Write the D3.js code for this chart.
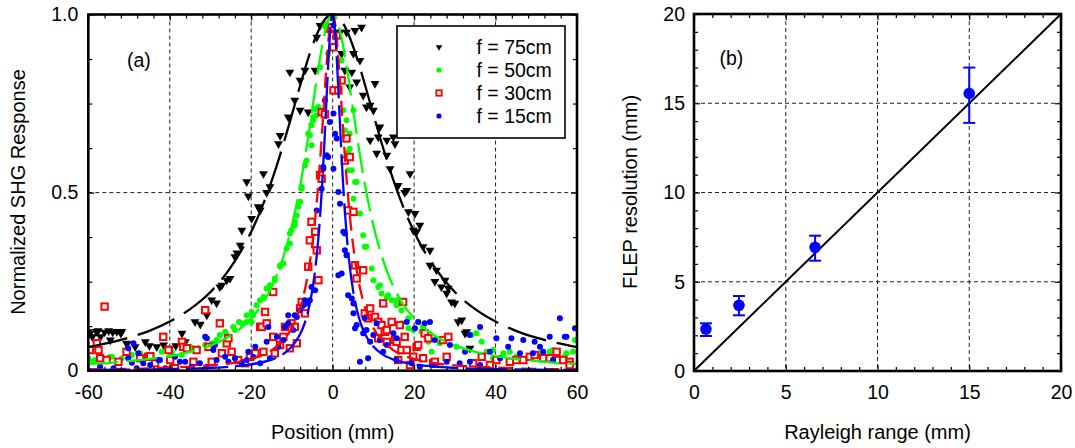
<!DOCTYPE html>
<html><head><meta charset="utf-8">
<script src="https://cdn.jsdelivr.net/npm/d3@7"></script>
<style>
body{margin:0;background:#fff;}
text{font-family:"Liberation Sans",Arial,sans-serif;fill:#000;}
</style></head><body>
<svg id="c" width="1075" height="448"></svg>
<script>
// ---------- Panel (a) data ----------
const seriesNames = ["f = 75cm","f = 50cm","f = 30cm","f = 15cm"];
const seriesColors = ["#000000","#00ff00","#ff0000","#0000ff"];
const f75 = [[-60,0.109],[-59.6,0.105],[-59,0.095],[-58,0.11],[-57.6,0.112],[-57,0.095],[-56,0.108],[-55,0.112],[-54.6,0.086],[-54,0.108],[-53,0.11],[-52,0.105],[-51.8,0.11],[-50.6,0.077],[-50.5,0.075],[-48.5,0.067],[-46,0.081],[-45,0.07],[-43.2,0.067],[-41.5,0.072],[-39.9,0.063],[-38.5,0.07],[-37,0.105],[-36.2,0.081],[-33.8,0.137],[-32.5,0.13],[-30.9,0.156],[-29.7,0.198],[-28.5,0.19],[-27.7,0.235],[-27.2,0.24],[-26,0.254],[-25.2,0.259],[-24,0.32],[-23.5,0.33],[-22.7,0.352],[-22.3,0.394],[-21.1,0.53],[-20.7,0.49],[-19.9,0.427],[-18.3,0.46],[-17.8,0.45],[-17,0.553],[-16.2,0.5],[-15.4,0.516],[-13.3,0.637],[-12.9,0.66],[-10.9,0.712],[-10.5,0.838],[-9.3,0.759],[-8,0.731],[-8,0.815],[-6.8,0.843],[-6,0.726],[-4.3,0.843],[-3.9,0.936],[-3.1,0.969],[-1.5,0.964],[1,0.95],[1.8,0.95],[2.2,0.89],[3,0.843],[3.4,0.95],[4.2,0.796],[4.7,0.838],[5.1,0.89],[5.5,0.955],[5.9,0.81],[6.7,0.871],[7.1,0.964],[7.5,0.773],[8.3,0.74],[9.2,0.745],[9.2,0.647],[10,0.731],[10.4,0.806],[10.8,0.61],[11.2,0.656],[11.6,0.684],[13.3,0.647],[13.3,0.605],[14.1,0.567],[14.9,0.656],[15.3,0.637],[16.1,0.52],[17.7,0.5],[18.2,0.506],[18.6,0.446],[19,0.553],[19.8,0.394],[20.2,0.441],[20.6,0.39],[21.4,0.408],[22.2,0.348],[23.9,0.338],[23.9,0.296],[25.1,0.25],[25.5,0.282],[26.7,0.235],[27.6,0.254],[28,0.217],[28.4,0.231],[29.2,0.193],[30,0.189],[30.8,0.137],[31.7,0.142],[32.5,0.105],[32.9,0.109],[33.7,0.063]];
const f50 = [[-60,0.035],[-59.1,0.025],[-58.3,0.03],[-56.7,0.035],[-54.7,0.039],[-54.2,0.039],[-51.8,0.035],[-49.3,0.044],[-47.3,0.049],[-46.9,0.035],[-44.4,0.044],[-42,0.053],[-39.9,0.049],[-39.5,0.053],[-37.1,0.044],[-35,0.067],[-34.2,0.063],[-33,0.063],[-31.3,0.072],[-29.7,0.077],[-28.5,0.086],[-27.7,0.1],[-26.4,0.109],[-26,0.1],[-24.4,0.123],[-24,0.114],[-23,0.137],[-22.3,0.133],[-21.1,0.156],[-21.1,0.137],[-19.9,0.165],[-19.9,0.137],[-19.5,0.156],[-18.7,0.184],[-17.8,0.198],[-17,0.207],[-16.2,0.231],[-15.8,0.231],[-15.4,0.24],[-14.2,0.254],[-14.2,0.259],[-12.9,0.292],[-12.9,0.296],[-12.1,0.301],[-11.3,0.343],[-10.5,0.357],[-10.5,0.385],[-10.1,0.394],[-9.3,0.408],[-9.3,0.418],[-8.8,0.436],[-8.4,0.46],[-8,0.474],[-7.6,0.511],[-7.6,0.516],[-6.8,0.577],[-6.4,0.59],[-6,0.665],[-5.6,0.661],[-5.2,0.633],[-5.2,0.689],[-4.8,0.703],[-4.8,0.712],[-4.3,0.735],[-3.9,0.717],[-3.5,0.74],[-3.1,0.852],[-2.3,0.969],[-1.9,0.974],[-1.1,0.89],[-0.25,0.99],[2.2,0.871],[2.6,0.731],[3,0.675],[3.4,0.703],[3.8,0.614],[3.8,0.563],[4.2,0.665],[4.2,0.623],[4.7,0.563],[5.1,0.731],[5.1,0.483],[5.5,0.53],[5.9,0.53],[6.7,0.441],[7.5,0.38],[7.9,0.348],[8.3,0.348],[9.6,0.287],[10,0.254],[11.2,0.235],[11.6,0.24],[12,0.217],[13.3,0.207],[13.6,0.212],[14.5,0.198],[15.7,0.184],[15.7,0.198],[16.9,0.17],[16.9,0.133],[18.6,0.147],[18.6,0.119],[19.8,0.114],[21,0.137],[21.8,0.109],[22.2,0.123],[23.5,0.081],[23.9,0.086],[24.3,0.053],[26.3,0.077],[30.4,0.067],[33.7,0.1],[34.1,0.1],[35.3,0.105],[36.6,0.081],[37.8,0.053],[39.4,0.035],[39.4,0.058],[41.9,0.049],[43.5,0.053],[45.1,0.039],[49.2,0.044],[50.9,0.049],[51.7,0.049],[53.3,0.053],[54.1,0.058],[57,0.039],[57.4,0.049],[59,0.053],[59.5,0.086]];
const f30 = [[-59.6,0.058],[-57.9,0.077],[-57.5,0.058],[-57.1,0.035],[-56,0.18],[-55.5,0.03],[-52.6,0.025],[-50.6,0.053],[-47.3,0.035],[-45.3,0.039],[-44.8,0.041],[-43.6,0.021],[-41.6,0.095],[-40.3,0.058],[-39.9,0.03],[-38.7,0.007],[-37,0.081],[-36.7,0.067],[-35.8,0.063],[-34.2,0.025],[-33.4,0.058],[-31.3,0.17],[-30.5,0.067],[-29.7,0.025],[-27.7,0.133],[-27.2,0.049],[-26,0.077],[-25.6,0.091],[-24.8,0.053],[-23.2,0.03],[-21.5,0.021],[-20.3,0.039],[-19,0.049],[-17.8,0.123],[-17.4,0.123],[-17,0.053],[-16.6,0.165],[-16.2,0.133],[-14.6,0.221],[-14.6,0.095],[-14.2,0.049],[-12.9,0.072],[-12.1,0.095],[-11.7,0.123],[-10.5,0.063],[-10.1,0.133],[-9.3,0.123],[-8.8,0.077],[-8,0.175],[-7.6,0.193],[-6.8,0.161],[-6,0.292],[-5.6,0.366],[-5.2,0.418],[-4.3,0.39],[-3.9,0.338],[-3.5,0.254],[-3.1,0.549],[-2.7,0.539],[-2.7,0.726],[-1.9,0.72],[-0.7,0.96],[-0.3,0.964],[0.2,0.908],[0.2,0.787],[1,0.941],[1.4,0.787],[2.2,0.815],[3,0.59],[3.4,0.652],[3.8,0.45],[4.2,0.6],[5.1,0.446],[5.5,0.296],[5.9,0.259],[7.5,0.282],[7.9,0.161],[8.7,0.147],[9.2,0.175],[10.4,0.151],[11.2,0.137],[11.2,0.091],[12,0.128],[12.4,0.189],[12.8,0.109],[13.3,0.114],[13.3,0.081],[14.5,0.137],[15.3,0.086],[15.7,0.081],[16.1,0.03],[16.5,0.128],[16.9,0.058],[17.3,0.193],[17.7,0.095],[18.2,0.058],[19,0.016],[19.8,0.039],[20.6,0.067],[21,0.072],[22.2,0.035],[22.6,0.105],[23.5,0.091],[24.7,0.021],[25.1,0.025],[27.1,0.086],[28,0.039],[28.4,0.095],[34.5,0.021],[36.6,0.039],[38.6,0.016],[40.2,0.03],[43.5,0.025],[45.1,0.03],[46.8,0.03],[48.4,0.039],[49.6,0.044],[51.7,0.035],[53.3,0.035],[55,0.053],[55.4,0.03],[56.6,0.03],[58.2,0.025],[58.2,0.016]];
const f15 = [[-57.1,0.011],[-53.8,0.007],[-50.2,0.063],[-50.2,0.035],[-49.3,0.022],[-48.9,0.077],[-48.1,0.007],[-47.7,0.049],[-46.5,0.021],[-44.8,0.016],[-42.8,0.03],[-42.4,0.03],[-41.1,0.007],[-38.7,0.039],[-37.5,0.025],[-36.2,0.025],[-34.6,0.011],[-32.6,0.021],[-31.3,0.095],[-30.9,0.091],[-30.9,0.011],[-29.3,0.058],[-28.9,0.072],[-28.5,0.03],[-26.4,0.039],[-25.6,0.025],[-24,0.035],[-22.3,0.021],[-21.1,0.03],[-20.7,0.053],[-19.5,0.039],[-19,0.067],[-17.8,0.021],[-16.2,0.081],[-15.8,0.123],[-15.4,0.035],[-13.7,0.095],[-13.3,0.067],[-12.1,0.086],[-11.7,0.123],[-10.9,0.156],[-10.9,0.133],[-9.7,0.114],[-9.3,0.156],[-8.8,0.151],[-8,0.17],[-7.2,0.184],[-6.8,0.198],[-6.4,0.189],[-5.6,0.198],[-5.2,0.235],[-4.3,0.226],[-3.9,0.45],[-2.7,0.511],[-2.3,0.572],[-2.3,0.567],[-1.9,0.759],[-1.5,0.605],[-1.1,0.6],[-0.7,0.698],[0.2,0.969],[0.2,0.722],[0.2,0.567],[0.6,0.665],[1,0.652],[1.4,0.502],[1.4,0.268],[1.8,0.469],[2.2,0.273],[2.6,0.39],[3,0.385],[3,0.338],[3.4,0.324],[3.8,0.212],[4.7,0.203],[5.1,0.189],[5.1,0.161],[5.5,0.119],[5.9,0.128],[6.7,0.025],[7.5,0.105],[7.9,0.147],[8.3,0.114],[8.7,0.035],[9.2,0.081],[10,0.1],[10.8,0.133],[11.6,0.086],[12.4,0.053],[13.3,0.072],[14.9,0.105],[15.7,0.091],[15.7,0.03],[18.2,0.137],[19.4,0.021],[20.2,0.119],[21,0.137],[21.4,0.011],[22.6,0.133],[23.9,0.137],[24.7,0.016],[25.1,0.086],[28,0.025],[28.8,0.072],[31.2,0.021],[32.5,0.053],[33.7,0.1],[33.7,0.025],[36.2,0.123],[36.2,0.016],[38.6,0.053],[40.2,0.091],[41.1,0.035],[43.1,0.067],[43.9,0.091],[46,0.049],[46.8,0.086],[49.2,0.049],[49.6,0.081],[50.9,0.067],[51.7,0.053],[53.3,0.095],[54.1,0.03],[55.8,0.147],[57,0.095],[57.4,0.095],[59.5,0.119]];
// fitted curves
const fit75 = [[-60,0.066],[-55,0.078],[-50,0.093],[-45,0.112],[-40,0.138],[-35,0.173],[-30,0.221],[-25,0.291],[-21,0.367],[-18,0.441],[-15,0.532],[-12,0.64],[-10,0.719],[-8,0.8],[-6,0.877],[-4,0.941],[-2,0.985],[0,1],[2,0.985],[4,0.941],[6,0.877],[8,0.8],[10,0.719],[12,0.64],[15,0.532],[18,0.441],[21,0.367],[25,0.291],[30,0.221],[35,0.173],[40,0.138],[45,0.112],[50,0.093],[55,0.078],[60,0.066]];
const fit50 = [[-60,0.019],[-55,0.022],[-50,0.027],[-45,0.033],[-40,0.041],[-35,0.053],[-30,0.071],[-25,0.099],[-20,0.147],[-17,0.192],[-14,0.26],[-12,0.324],[-10,0.408],[-8,0.518],[-7,0.584],[-6,0.657],[-5,0.734],[-4,0.812],[-3,0.884],[-2,0.945],[-1,0.986],[0,1],[1,0.986],[2,0.945],[3,0.884],[4,0.812],[5,0.734],[6,0.657],[7,0.584],[8,0.518],[10,0.408],[12,0.324],[14,0.26],[17,0.192],[20,0.147],[25,0.099],[30,0.071],[35,0.053],[40,0.041],[45,0.033],[50,0.027],[55,0.022],[60,0.019]];
const fit30 = [[-60,0.004],[-50,0.005],[-40,0.009],[-30,0.015],[-25,0.021],[-20,0.033],[-15,0.057],[-12,0.087],[-10,0.12],[-8,0.176],[-7,0.218],[-6,0.276],[-5,0.354],[-4,0.461],[-3.5,0.528],[-3,0.603],[-2.5,0.687],[-2,0.774],[-1.5,0.859],[-1,0.932],[-0.5,0.982],[0,1],[0.5,0.982],[1,0.932],[1.5,0.859],[2,0.774],[2.5,0.687],[3,0.603],[3.5,0.528],[4,0.461],[5,0.354],[6,0.276],[7,0.218],[8,0.176],[10,0.12],[12,0.087],[15,0.057],[20,0.033],[25,0.021],[30,0.015],[40,0.009],[50,0.005],[60,0.004]];
const fit15 = [[-60,0.002],[-50,0.003],[-40,0.0045],[-30,0.008],[-25,0.0115],[-20,0.018],[-15,0.031],[-12,0.048],[-10,0.068],[-8,0.102],[-7,0.129],[-6,0.168],[-5,0.226],[-4,0.313],[-3.5,0.373],[-3,0.447],[-2.5,0.538],[-2,0.646],[-1.5,0.764],[-1,0.879],[-0.5,0.967],[0,1],[0.5,0.967],[1,0.879],[1.5,0.764],[2,0.646],[2.5,0.538],[3,0.447],[3.5,0.373],[4,0.313],[5,0.226],[6,0.168],[7,0.129],[8,0.102],[10,0.068],[12,0.048],[15,0.031],[20,0.018],[25,0.0115],[30,0.008],[40,0.0045],[50,0.003],[60,0.002]];
const xTicksA = [-60,-40,-20,0,20,40,60];
const xMinorA = [-56,-52,-48,-44,-36,-32,-28,-24,-16,-12,-8,-4,4,8,12,16,24,28,32,36,44,48,52,56];
const yTicksA = [0,0.5,1.0];
const yTickLabelsA = ["0","0.5","1.0"];
const yMinorA = [0.125,0.25,0.375,0.625,0.75,0.875];

// ---------- Panel (b) data ----------
const rayleigh = [0.65, 2.45, 6.6, 15.0];
const flep = [2.35, 3.68, 6.93, 15.55];
const flepLow = [1.96, 3.12, 6.18, 13.9];
const flepHigh = [2.67, 4.2, 7.58, 17.0];
const identity = [[0,0],[20,20]];
const ticksB = [0,5,10,15,20];
const minorB = [1,2,3,4,6,7,8,9,11,12,13,14,16,17,18,19];

const svg = d3.select("#c");
const FONT = 19.5;

function panel(opt){
  const g = svg.append("g");
  const x = d3.scaleLinear().domain(opt.xd).range([opt.l, opt.r]);
  const y = d3.scaleLinear().domain(opt.yd).range([opt.b, opt.t]);
  g.append("g").selectAll("line").data(opt.xgrid).join("line")
    .attr("x1",d=>x(d)).attr("x2",d=>x(d)).attr("y1",opt.t).attr("y2",opt.b)
    .attr("stroke","#222").attr("stroke-width",1).attr("stroke-dasharray","4,3");
  g.append("g").selectAll("line").data(opt.ygrid).join("line")
    .attr("y1",d=>y(d)).attr("y2",d=>y(d)).attr("x1",opt.l).attr("x2",opt.r)
    .attr("stroke","#222").attr("stroke-width",1).attr("stroke-dasharray","4,3");
  const clipId = "clip"+opt.id;
  svg.append("clipPath").attr("id",clipId).append("rect")
    .attr("x",opt.l).attr("y",opt.t-2).attr("width",opt.r-opt.l).attr("height",opt.b-opt.t+2);
  const plot = g.append("g").attr("clip-path",`url(#${clipId})`);
  const style = sel => { sel.select(".domain").remove(); sel.selectAll("line").attr("stroke","#000").attr("stroke-width",1.2);
    sel.selectAll("text").style("font-size",FONT+"px").style("font-family","Liberation Sans, Arial, sans-serif"); };
  const axG = g.append("g");
  axG.append("g").attr("transform",`translate(0,${opt.b})`)
    .call(d3.axisBottom(x).tickValues(opt.xt).tickSize(-6).tickPadding(14).tickFormat(opt.xf)).call(style);
  axG.append("g").attr("transform",`translate(0,${opt.b})`)
    .call(d3.axisBottom(x).tickValues(opt.xm).tickSize(-4).tickFormat("")).call(style);
  axG.append("g").attr("transform",`translate(0,${opt.t})`)
    .call(d3.axisTop(x).tickValues(opt.xt).tickSize(-6).tickFormat("")).call(style);
  axG.append("g").attr("transform",`translate(0,${opt.t})`)
    .call(d3.axisTop(x).tickValues(opt.xm).tickSize(-4).tickFormat("")).call(style);
  axG.append("g").attr("transform",`translate(${opt.l},0)`)
    .call(d3.axisLeft(y).tickValues(opt.yt).tickSize(-6).tickPadding(opt.ypad).tickFormat(opt.yf)).call(style);
  axG.append("g").attr("transform",`translate(${opt.l},0)`)
    .call(d3.axisLeft(y).tickValues(opt.ym).tickSize(-4).tickFormat("")).call(style);
  axG.append("g").attr("transform",`translate(${opt.r},0)`)
    .call(d3.axisRight(y).tickValues(opt.yt).tickSize(-6).tickFormat("")).call(style);
  axG.append("g").attr("transform",`translate(${opt.r},0)`)
    .call(d3.axisRight(y).tickValues(opt.ym).tickSize(-4).tickFormat("")).call(style);
  return {g, x, y, plot, axG};
}

// ---------- Panel (a) ----------
const A = panel({id:"a", l:88.3, r:577, t:14.5, b:370.7, xd:[-60,60], yd:[0,1],
  xgrid:[-40,-20,0,20,40], ygrid:[0.5], xt:xTicksA, xm:xMinorA, yt:yTicksA, ym:yMinorA,
  xf:d=>d, yf:(d,i)=>yTickLabelsA[i], ypad:10});

const pts = [f75,f50,f30,f15];
const fits = [fit75,fit50,fit30,fit15];
const dashes = ["40,11","30,9","15,8","42,7"];
const tri = d3.symbol().type(d3.symbolTriangle).size(34);
function drawMarker(sel, k){
  if(k===0){ sel.append("path").attr("d",tri()).attr("transform","rotate(180)").attr("fill","#000"); }
  else if(k===1){ sel.append("circle").attr("r",3).attr("fill",seriesColors[1]); }
  else if(k===2){ sel.append("rect").attr("x",-3.2).attr("y",-3.2).attr("width",6.4).attr("height",6.4)
      .attr("fill","#fff").attr("stroke",seriesColors[2]).attr("stroke-width",2); }
  else { sel.append("circle").attr("r",3).attr("fill",seriesColors[3]); }
}
pts.forEach((data,k)=>{
  const gg = A.plot.append("g");
  gg.selectAll("g").data(data).join("g")
    .attr("transform",d=>`translate(${A.x(d[0])},${A.y(d[1])})`)
    .each(function(){ drawMarker(d3.select(this), k); });
});
const line = d3.line().x(d=>A.x(d[0])).y(d=>A.y(d[1])).curve(d3.curveMonotoneX);
fits.forEach((data,k)=>{
  A.plot.append("path").attr("d",line(data)).attr("fill","none")
    .attr("stroke",seriesColors[k]).attr("stroke-width",2.3).attr("stroke-dasharray",dashes[k]);
});
A.g.append("rect").attr("x",88.3).attr("y",14.5).attr("width",577-88.3).attr("height",370.7-14.5)
  .attr("fill","none").attr("stroke","#000").attr("stroke-width",2.6);
A.g.append("text").attr("x",127).attr("y",67).style("font-size","19.5px").text("(a)");
// legend
const leg = A.g.append("g");
leg.append("rect").attr("x",397).attr("y",26).attr("width",168).attr("height",112)
  .attr("fill","#fff").attr("stroke","#000").attr("stroke-width",1.6);
seriesNames.forEach((nm,k)=>{
  const cy = 47 + k*23;
  const m = leg.append("g").attr("transform",`translate(439,${cy})`);
  if(k===0){ m.append("path").attr("d",d3.symbol().type(d3.symbolTriangle).size(18)()).attr("transform","rotate(180)").attr("fill","#000"); }
  else if(k===2){ m.append("rect").attr("x",-2.7).attr("y",-2.7).attr("width",5.4).attr("height",5.4).attr("fill","#fff").attr("stroke","#f00").attr("stroke-width",1.8); }
  else { m.append("circle").attr("r",2.6).attr("fill",seriesColors[k]); }
  leg.append("text").attr("x",476.5).attr("y",cy+7).style("font-size","19.5px").text(nm);
});
svg.append("text").attr("x",332.7).attr("y",439).attr("text-anchor","middle").style("font-size","20px").text("Position (mm)");
svg.append("text").attr("transform","translate(25,192) rotate(-90)").attr("text-anchor","middle").style("font-size","20px").text("Normalized SHG Response");

// ---------- Panel (b) ----------
const B = panel({id:"b", l:694, r:1061, t:14, b:371, xd:[0,20], yd:[0,20],
  xgrid:[5,10,15], ygrid:[5,10,15], xt:ticksB, xm:minorB, yt:ticksB, ym:minorB,
  xf:d=>d, yf:d=>d, ypad:9});
const lineB = d3.line().x(d=>B.x(d[0])).y(d=>B.y(d[1]));
B.plot.append("path").attr("d",lineB(identity)).attr("fill","none").attr("stroke","#000").attr("stroke-width",2);
const eb = B.plot.append("g");
rayleigh.forEach((rx,i)=>{
  const cx = B.x(rx);
  eb.append("line").attr("x1",cx).attr("x2",cx).attr("y1",B.y(flepLow[i])).attr("y2",B.y(flepHigh[i])).attr("stroke","#0000ff").attr("stroke-width",2);
  [flepLow[i],flepHigh[i]].forEach(v=>eb.append("line").attr("x1",cx-6).attr("x2",cx+6).attr("y1",B.y(v)).attr("y2",B.y(v)).attr("stroke","#0000ff").attr("stroke-width",2));
  eb.append("circle").attr("cx",cx).attr("cy",B.y(flep[i])).attr("r",5.8).attr("fill","#0000ff");
});
B.g.append("rect").attr("x",694).attr("y",14).attr("width",1061-694).attr("height",371-14)
  .attr("fill","none").attr("stroke","#000").attr("stroke-width",2.6);
B.g.append("text").attr("x",719.5).attr("y",65).style("font-size","19.5px").text("(b)");
svg.append("text").attr("x",877.5).attr("y",439).attr("text-anchor","middle").style("font-size","20px").text("Rayleigh range (mm)");
svg.append("text").attr("transform","translate(637,192) rotate(-90)").attr("text-anchor","middle").style("font-size","20px").text("FLEP resolution (mm)");
</script>
</body></html>
